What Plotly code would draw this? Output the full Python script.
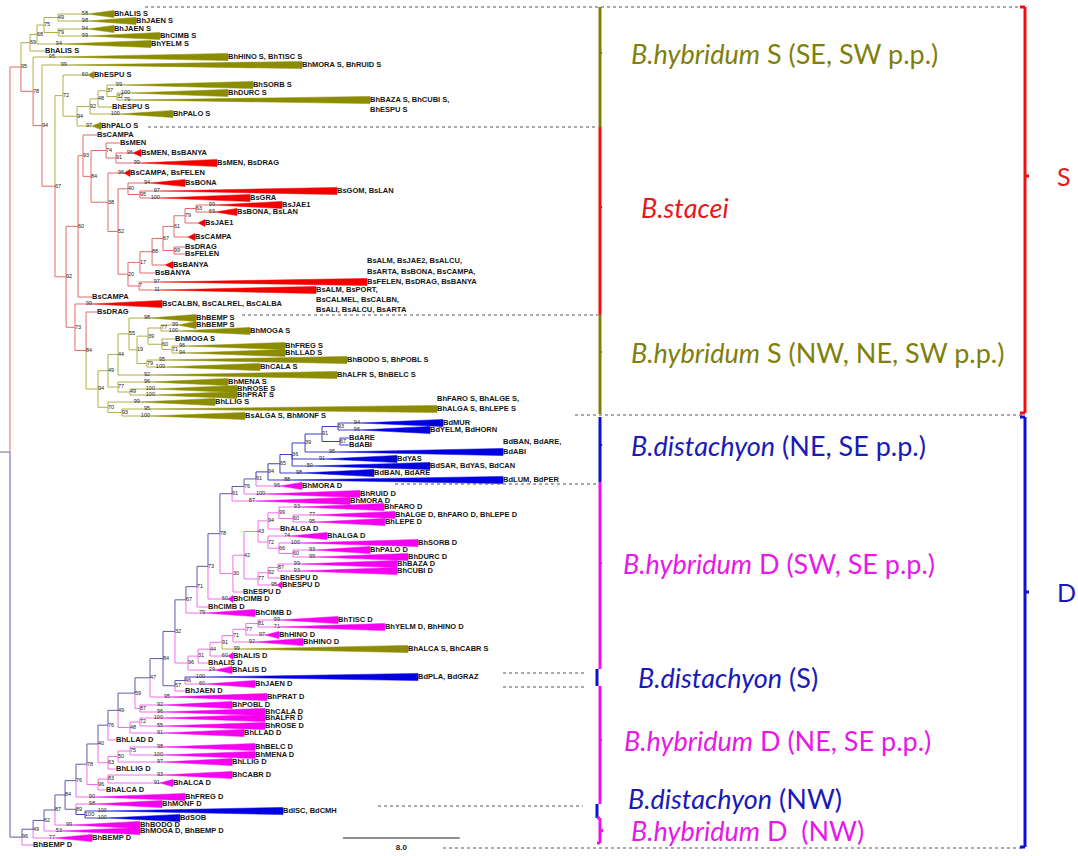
import plotly.graph_objects as go

W, H = 1078, 856
OL, RD, BL, MG = 'olive', 'red', 'blue', 'magenta'


def L(label, y, tip, col, bs=None, apex=None, anchor='first'):
    return {'label': label, 'y': y, 'tip': tip, 'col': col, 'bs': bs,
            'apex': apex, 'anchor': anchor}


def N(x, bs, *children):
    return {'x': x, 'bs': bs, 'children': list(children)}


# ---------------- tree data (x = branch depth in substitution units, y = row position) ----------
S_TOP = N(1.37, 69,
          N(1.85, 68,
            N(2.33, 75,
              N(3.29, 49,
                L('BhALIS S', 14, 7.12, OL, 58, 5.34),
                L('BhJAEN S', 21, 8.63, OL, 98, 5.34)),
              N(3.29, 79,
                L('BhJAEN S', 29, 7.12, OL, 94, 5.34),
                L('BhCIMB S', 36, 10.27, OL, 99, 5.34))),
            L('BhYELM S', 44, 9.66, OL, 94, 3.56)),
          L('BhALIS S', 51, 2.40, OL))

S_ESPU = N(3.63, 72,
           L('BhESPU S', 75, 5.75, OL, 60, 5.34),
           N(4.59, 94,
             N(5.48, 92,
               N(6.03, 48,
                 N(6.64, 37,
                   L('BhSORB S', 85, 16.64, OL, 99, 7.67),
                   N(7.33, 32,
                     L('BhDURC S', 93, 14.93, OL, 100, 8.22),
                     L('BhBAZA S, BhCUBI S,\nBhESPU S', 100, 24.66, OL, 79, 8.22))),
                 L('BhESPU S', 107, 6.99, OL)),
               L('BhPALO S', 114, 11.16, OL, 100, 7.53)),
             L('BhPALO S', 126, 6.23, OL, 97, 5.62)))

STACEI = N(5.0, 93,
           L('BsCAMPA', 135, 5.96, RD),
           N(5.55, 84,
             N(6.58, 74,
               L('BsMEN', 143, 7.53, RD),
               N(7.26, 91,
                 L('BsMEN, BsBANYA', 153, 8.97, RD, 96, 8.42),
                 L('BsMEN, BsDRAG', 163, 14.18, RD, 99, 8.90))),
             N(6.71, 38,
               L('BsCAMPA, BsFELEN', 173, 8.22, RD, 96, 7.81),
               N(7.40, 52,
                 N(8.08, 40,
                   L('BsBONA', 183, 11.99, RD, 94, 9.59),
                   N(8.90, 95,
                     L('BsGOM, BsLAN', 191, 22.40, RD, 97, 10.27),
                     L('BsGRA', 198, 16.44, RD, 100, 10.27))),
                 N(8.08, 20,
                   N(8.90, 17,
                     N(9.73, 88,
                       N(10.48, 67,
                         N(11.23, 61,
                           N(11.99, 79,
                             N(12.74, 63,
                               L('BsJAE1', 205, 18.63, RD, 99, 14.04),
                               L('BsBONA, BsLAN', 212, 15.55, RD, 69, 14.04)),
                             L('BsJAE1', 223, 13.36, RD, None, 12.88)),
                           L('BsCAMPA', 237, 12.67, RD, None, 12.19)),
                         N(11.23, 99,
                           L('BsDRAG', 247, 11.99, RD),
                           L('BsFELEN', 254, 11.99, RD))),
                       L('BsBANYA', 265, 11.16, RD, None, 10.62)),
                     L('BsBANYA', 273, 9.93, RD)),
                   N(8.84, 7,
                     L('BsALM, BsJAE2, BsALCU,\nBsARTA, BsBONA, BsCAMPA,\nBsFELEN, BsDRAG, BsBANYA',
                       282, 24.45, RD, 97, 10.27, 'last'),
                     L('BsALM, BsPORT,\nBsCALMEL, BsCALBN,\nBsALI, BsALCU, BsARTA',
                       290, 20.96, RD, 11, 10.27)))))))

S_BOTTOM = N(6.03, 94,
             N(6.71, 49,
               N(7.40, 44,
                 N(8.15, 55,
                   L('BhBEMP S', 318, 12.74, OL, 98, 9.59),
                   N(8.70, 19,
                     N(9.45, 39,
                       N(10.34, 77,
                         L('BhBEMP S', 325, 12.74, OL, 99, 11.51),
                         L('BhMOGA S', 331, 16.44, OL, 100, 11.51)),
                       N(10.41, 60,
                         L('BhMOGA S', 339, 11.30, OL),
                         N(11.10, 71,
                           L('BhFREG S', 346, 18.84, OL, 96, 11.99),
                           L('BhLLAD S', 353, 18.84, OL, 94, 11.99)))),
                     N(9.38, 79,
                       L('BhBODO S, BhPOBL S', 360, 23.08, OL, 95, 10.62),
                       L('BhCALA S', 367, 17.12, OL, 100, 10.62)))),
                 L('BhALFR S, BhBELC S', 375, 22.40, OL, 92, 9.59)),
               N(7.40, 77,
                 L('BhMENA S', 382, 14.93, OL, 96, 9.59),
                 N(8.22, 49,
                   L('BhROSE S', 389, 15.55, OL, 100, 9.93),
                   L('BhPRAT S', 395, 15.55, OL, 100, 9.93)))),
             N(6.71, 70,
               L('BhLLIG S', 402, 14.04, OL, 99, 8.90),
               N(7.67, 93,
                 L('BhFARO S, BhALGE S,\nBhALGA S, BhLEPE S', 409, 29.25, OL, 95, 9.59, 'last'),
                 L('BsALGA S, BhMONF S', 416, 16.10, OL, 100, 9.59))))

S_CLADE = N(0.75, 95,
            S_TOP,
            N(1.58, 78,
              L('BhHINO S, BhTISC S', 57, 14.93, OL, 95, 3.08),
              N(2.19, 94,
                L('BhMORA S, BhRUID S', 65, 20.0, OL, 99, 3.90),
                N(3.08, 67,
                  S_ESPU,
                  N(3.84, 92,
                    N(4.66, 60, STACEI, L('BsCAMPA', 297, 5.62, RD)),
                    N(4.45, 73,
                      L('BsCALBN, BsCALREL, BsCALBA', 304, 10.41, RD, 99, 5.62),
                      N(5.21, 84,
                        L('BsDRAG', 312, 5.96, RD),
                        S_BOTTOM)))))))

D_DIST = N(16.85, 91,
           N(17.67, 94,
             N(18.49, 65,
               N(19.32, 36,
                 N(20.21, 39,
                   N(21.37, 91,
                     N(22.47, 93,
                       L('BdMUR', 423, 29.66, BL, 94, 23.97),
                       L('BdYELM, BdHORN', 430, 28.77, BL, 96, 23.97)),
                     N(22.60, 67,
                       L('BdARE', 438, 23.22, BL),
                       L('BdABI', 445, 23.22, BL))),
                   L('BdBAN, BdARE,\nBdABI', 452, 33.77, BL, 95, 22.26, 'last')),
                 L('BdYAS', 459, 26.51, BL, 91, 21.58),
                 L('BdSAR, BdYAS, BdCAN', 466, 28.77, BL, 50, 20.75)),
               L('BdBAN, BdARE', 473, 24.93, BL, 98, 20.0)),
             L('BdLUM, BdPER', 480, 33.77, BL, 88, 19.18)),
           L('BhMORA D', 486, 20.0, MG, 96, 18.49))

D_UPPER = N(14.38, 78,
            N(15.21, 91,
              N(16.03, 76,
                D_DIST,
                L('BhRUID D', 494, 23.97, MG, 100, 17.47)),
              L('BhMORA D', 501, 23.29, MG, 87, 16.78)),
            N(15.27, 30,
              N(16.03, 42,
                N(16.99, 43,
                  N(17.67, 94,
                    N(18.42, 99,
                      L('BhFARO D', 507, 25.62, MG, 93, 19.86),
                      N(19.38, 60,
                        L('BhALGE D, BhFARO D, BhLEPE D', 515, 26.37, MG, 77, 20.89),
                        L('BhLEPE D', 522, 25.68, MG, 95, 20.89))),
                    L('BhALGA D', 529, 18.49, MG)),
                  N(17.67, 72,
                    L('BhALGA D', 536, 21.71, MG, 74, 19.18),
                    N(18.42, 66,
                      L('BhSORB D', 543, 27.95, MG, 100, 19.86),
                      N(19.38, 60,
                        L('BhPALO D', 550, 24.66, MG, 93, 20.89),
                        L('BhDURC D', 557, 27.26, MG, 99, 20.89))))),
                N(16.99, 77,
                  N(17.67, 92,
                    N(18.36, 87,
                      L('BhBAZA D', 564, 26.51, MG, 99, 19.86),
                      L('BhCUBI D', 571, 26.51, MG, 93, 19.86)),
                    L('BhESPU D', 578, 18.49, MG)),
                  L('BhESPU D', 585, 18.63, MG, 95, 18.29))),
              L('BhESPU D', 592, 15.96, MG)))

D_MID = N(11.30, 32,
          N(12.05, 67,
            N(12.81, 71,
              N(13.56, 73,
                D_UPPER,
                L('BhCIMB D', 599, 15.27, MG, 60, 14.93)),
              L('BhCIMB D', 607, 13.56, MG)),
            L('BhCIMB D', 613, 16.78, MG, 79, 13.36)),
          N(12.19, 96,
            N(12.88, 31,
              N(13.70, 44,
                N(14.52, 91,
                  N(15.27, 71,
                    N(16.16, 77,
                      N(16.99, 81,
                        L('BhTISC D', 620, 22.47, MG, 99, 18.49),
                        L('BhYELM D, BhHINO D', 627, 25.68, MG, 71, 18.49)),
                      L('BhHINO D', 635, 18.42, MG, 97, 17.47)),
                    L('BhHINO D', 642, 20.07, MG, 92, 16.78)),
                  L('BhALCA S, BhCABR S', 649, 27.26, OL, 99, 15.75)),
                L('BhALIS D', 656, 15.27, MG, 60, 14.93)),
              L('BhALIS D', 663, 13.56, MG)),
            L('BhALIS D', 670, 15.21, MG, 29, 14.04)))

D_CLADE = N(0.82, 96,
  N(1.58, 49,
    N(2.33, 62,
      N(3.08, 87,
        N(3.77, 84,
          N(4.52, 76,
            N(5.27, 78,
              N(6.03, 40,
                N(6.71, 76,
                  N(7.40, 49,
                    N(8.56, 59,
                      N(9.59, 47,
                        N(10.48, 84,
                          D_MID,
                          N(11.30, 57,
                            N(11.99, 46,
                              L('BdPLA, BdGRAZ', 677, 27.95, BL, 100, 13.36),
                              L('BhJAEN D', 684, 16.78, MG, 60, 13.36)),
                            L('BhJAEN D', 691, 11.99, MG))),
                        L('BhPRAT D', 697, 17.60, MG, 95, 10.96)),
                      N(8.90, 87,
                        L('BhPOBL D', 705, 15.21, MG, 92, 10.48),
                        L('BhCALA D', 712, 17.47, MG, 96, 10.48))),
                    N(8.22, 48,
                      N(8.90, 72,
                        L('BhALFR D', 718, 17.47, MG, 100, 10.48),
                        L('BhROSE D', 726, 17.47, MG, 55, 10.48)),
                      L('BhLLAD D', 733, 16.03, MG, 91, 10.48))),
                  L('BhLLAD D', 740, 7.26, MG)),
                N(6.71, 63,
                  N(7.40, 50,
                    N(8.22, 75,
                      L('BhBELC D', 747, 16.78, MG, 98, 10.48),
                      L('BhMENA D', 755, 16.78, MG, 100, 10.48)),
                    L('BhLLIG D', 762, 15.21, MG, 97, 10.48)),
                  L('BhLLIG D', 769, 7.26, MG))),
              N(6.03, 96,
                N(6.71, 83,
                  L('BhCABR D', 775, 15.21, MG, 93, 10.48),
                  L('BhALCA D', 783, 11.16, MG, 91, 10.27)),
                L('BhALCA D', 790, 6.58, MG))),
            L('BhFREG D', 797, 11.99, MG, 90, 5.82)),
          N(4.52, 89,
            L('BhMONF D', 804, 10.41, MG, 98, 5.82),
            N(5.14, 100,
              L('BdISC, BdCMH', 811, 18.70, BL, 100, 6.64),
              L('BdSOB', 818, 11.64, BL, 100, 6.64)))),
        L('BhBODO D', 825, 8.90, MG, 99, 4.25)),
      L('BhMOGA D, BhBEMP D', 831, 8.90, MG, 53, 3.56)),
    L('BhBEMP D', 838, 5.62, MG, 77, 3.08)),
  L('BhBEMP D', 845, 1.58, MG))

ROOT = N(0.0, None, S_CLADE, D_CLADE)

# right-hand clade annotation data
GROUP_NAMES = ['<i>B.hybridum</i> S (SE, SW p.p.)', '<i>B.stacei</i>',
               '<i>B.hybridum</i> S (NW, NE, SW p.p.)', '<i>B.distachyon</i> (NE, SE p.p.)',
               '<i>B.hybridum</i> D (SW, SE p.p.)', '<i>B.distachyon</i> (S)',
               '<i>B.hybridum</i> D (NE, SE p.p.)', '<i>B.distachyon</i> (NW)',
               '<i>B.hybridum</i> D  (NW)']
GROUP_COLS = [OL, RD, OL, BL, MG, BL, MG, BL, MG]
GROUP_Y0 = [7, 127, 315, 417, 482, 669, 686, 804, 818]
GROUP_Y1 = [127, 315, 414, 482, 669, 686, 804, 818, 843]
GROUP_LABEL_Y = [53, 207, 352, 445, 563, 677, 740, 798, 830]
GENOME_NAMES = ['S', 'D']
GENOME_COLS = [RD, BL]
GENOME_Y0 = [7, 417]
GENOME_Y1 = [413, 847]
GENOME_LABEL_Y = [176, 592]
SCALE_LEN = 8.0

# ---------------- styles ----------------
FILL = {OL: '#8c8c00', RD: '#f20000', BL: '#0000e0', MG: '#f500f0'}
LINE = {OL: '#b0b048', RD: '#e26a6a', BL: '#3c3cd0', MG: '#f070f0', 'mixd': '#5c5cae', 'root': '#6a6a90'}
TEXTC = {OL: '#7f7f0c', RD: '#e8161e', BL: '#1a1ab8', MG: '#e61ae6'}
BARC = {OL: '#7f7f0c', RD: '#f01010', BL: '#1010d0', MG: '#f010f0'}
TRI_HALF = 3.6
LINE_STEP = 10.2

segs = {k: ([], []) for k in LINE}
tris = {k: ([], []) for k in FILL}
lab = ([], [], [])
nbs = ([], [], [])
tbs = ([], [], [])


def layout(n):
    if 'children' in n:
        for c in n['children']:
            layout(c)
        n['y'] = (n['children'][0]['y'] + n['children'][-1]['y']) / 2
        cols = set()
        for c in n['children']:
            cols |= c['cols']
        n['cols'] = cols
    else:
        n['cols'] = {n['col']}


def bcol(n):
    c = n['cols']
    if len(c) == 1:
        return next(iter(c))
    if BL in c:
        return 'mixd'
    if RD in c:
        return RD
    return MG


def seg(col, xs, ys):
    segs[col][0].extend(xs + [None])
    segs[col][1].extend(ys + [None])


def draw(n):
    for c in n['children']:
        col = bcol(c)
        seg(col, [n['x'], n['x']], [n['y'], c['y']])
        if 'children' in c:
            seg(col, [n['x'], c['x']], [c['y'], c['y']])
            if c['bs'] is not None:
                nbs[0].append(c['x']); nbs[1].append(c['y']); nbs[2].append(str(c['bs']))
            draw(c)
        else:
            end = c['apex'] if c['apex'] is not None else c['tip']
            seg(col, [n['x'], end], [c['y'], c['y']])
            if c['apex'] is not None:
                tx, ty = tris[c['col']]
                tx.extend([c['apex'], c['tip'], c['tip'], c['apex'], None])
                ty.extend([c['y'], c['y'] - TRI_HALF, c['y'] + TRI_HALF, c['y'], None])
                if c['bs'] is not None:
                    tbs[0].append(c['apex']); tbs[1].append(c['y']); tbs[2].append(str(c['bs']))
            lines = c['label'].split('\n')
            k = len(lines)
            for i, t in enumerate(lines):
                off = (i - (k - 1)) if c['anchor'] == 'last' else i
                lab[0].append(c['tip']); lab[1].append(c['y'] + off * LINE_STEP); lab[2].append(t)


layout(ROOT)
draw(ROOT)
XMIN, XMAX = -0.685, 73.15
seg('root', [XMIN, ROOT['x']], [ROOT['y'], ROOT['y']])

fig = go.Figure()
for k, (xs, ys) in segs.items():
    fig.add_trace(go.Scatter(x=xs, y=ys, mode='lines', line=dict(color=LINE[k], width=1),
                             hoverinfo='skip', showlegend=False))
for k, (xs, ys) in tris.items():
    fig.add_trace(go.Scatter(x=xs, y=ys, mode='lines', fill='toself', fillcolor=FILL[k],
                             line=dict(color=FILL[k], width=0.5), hoverinfo='skip', showlegend=False))
fig.add_trace(go.Scatter(x=lab[0], y=lab[1], text=lab[2], mode='text', textposition='middle right',
                         textfont=dict(family='Liberation Sans', size=7.5, color='#151515', weight='bold'),
                         hoverinfo='skip', showlegend=False))
fig.add_trace(go.Scatter(x=nbs[0], y=nbs[1], text=nbs[2], mode='text', textposition='middle right',
                         textfont=dict(family='Liberation Sans', size=5.5, color='#222222'),
                         hoverinfo='skip', showlegend=False))
fig.add_trace(go.Scatter(x=tbs[0], y=tbs[1], text=tbs[2], mode='text', textposition='middle left',
                         textfont=dict(family='Liberation Sans', size=5.5, color='#222222'),
                         hoverinfo='skip', showlegend=False))

# scale bar
SB_X0, SB_Y = 22.8, 838
fig.add_trace(go.Scatter(x=[SB_X0, SB_X0 + SCALE_LEN], y=[SB_Y, SB_Y], mode='lines',
                         line=dict(color='#222222', width=1), hoverinfo='skip', showlegend=False))
fig.add_trace(go.Scatter(x=[SB_X0 + SCALE_LEN / 2], y=[SB_Y + 10], text=['%.1f' % SCALE_LEN], mode='text',
                         textfont=dict(family='Liberation Sans', size=8, color='#222222', weight='bold'),
                         hoverinfo='skip', showlegend=False))

# ---------------- right-hand brackets ----------------
shapes = []
annots = []
BR_IN = 600 / W
BR_SMALL = 597 / W
BR_OUT = 1025 / W
HOOK = 5 / W
TICK = 3 / W


def pline(x0, y0, x1, y1, color, width, dash='solid'):
    shapes.append(dict(type='line', xref='paper', yref='y', x0=x0, y0=y0, x1=x1, y1=y1,
                       line=dict(color=color, width=width, dash=dash)))


DASH_Y = [7, 127, 315, 415, 484, 673, 687, 806, 848]
DASH_X0 = [145, 148, 242, 575, 395, 503, 503, 378, 443]
DASH_X1 = [1022, 598, 598, 1022, 598, 587, 587, 583, 1022]
for y, a, b in zip(DASH_Y, DASH_X0, DASH_X1):
    pline(a / W, y, b / W, y, '#555555', 1, '3px,3px')

LABEL_X = [630, 640, 630, 630, 622, 637, 623, 627, 630]
for i, (name, col, y0, y1, ly, lx) in enumerate(zip(GROUP_NAMES, GROUP_COLS, GROUP_Y0, GROUP_Y1,
                                                    GROUP_LABEL_Y, LABEL_X)):
    c = BARC[col]
    short = (y1 - y0) < 20
    bx = BR_SMALL if (short and col == BL) else BR_IN
    pline(bx, y0, bx, y1, c, 3)
    if i == len(GROUP_NAMES) - 1:
        # curly brace for the last, short group
        pline(bx - TICK, y0, bx, y0, c, 3)
        pline(bx - TICK, y1, bx, y1, c, 3)
        pline(bx, (y0 + y1) / 2, bx + TICK, (y0 + y1) / 2, c, 3)
    elif not short:
        pline(bx, ly, bx + TICK * 0.7, ly, c, 2)
    annots.append(dict(xref='paper', yref='y', x=lx / W, y=ly, text=name, showarrow=False,
                       xanchor='left', yanchor='middle', borderpad=0,
                       font=dict(family='Lato', size=27, color=TEXTC[col])))

for name, col, y0, y1, ly in zip(GENOME_NAMES, GENOME_COLS, GENOME_Y0, GENOME_Y1, GENOME_LABEL_Y):
    c = BARC[col]
    pline(BR_OUT, y0, BR_OUT, y1, c, 3)
    pline(BR_OUT - HOOK, y0, BR_OUT, y0, c, 3)
    pline(BR_OUT - HOOK, y1, BR_OUT, y1, c, 3)
    pline(BR_OUT, ly, BR_OUT + 0.8 * HOOK, ly, c, 3)
    annots.append(dict(xref='paper', yref='y', x=1056 / W, y=ly, text=name, showarrow=False,
                       xanchor='left', yanchor='middle', borderpad=0,
                       font=dict(family='Lato', size=25, color=TEXTC[col])))

fig.update_layout(
    width=W, height=H, margin=dict(l=0, r=0, t=0, b=0),
    paper_bgcolor='white', plot_bgcolor='white', showlegend=False,
    xaxis=dict(range=[XMIN, XMAX], visible=False, fixedrange=True),
    yaxis=dict(range=[H, 0], visible=False, fixedrange=True),
    shapes=shapes, annotations=annots,
)
fig.write_html('out.html', config={'displayModeBar': False},
               post_script="document.body.style.margin='0px';document.body.style.overflow='hidden';")
